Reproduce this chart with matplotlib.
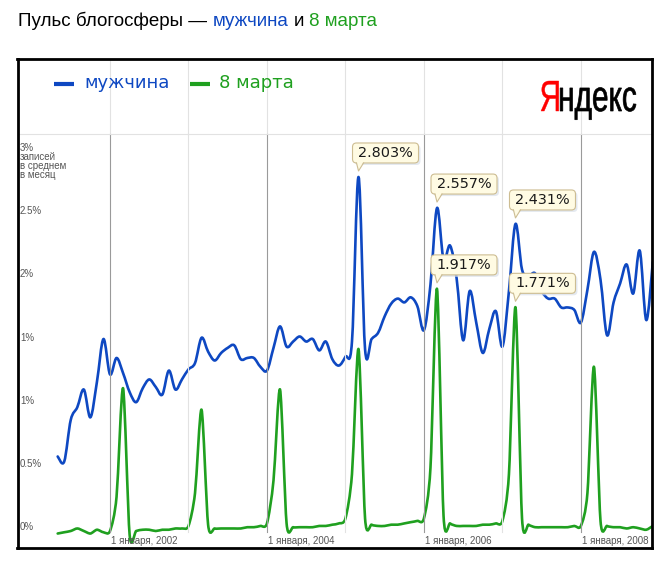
import numpy as np
import matplotlib.pyplot as plt
from matplotlib.path import Path
from matplotlib.patches import PathPatch, FancyBboxPatch, Polygon
from matplotlib.lines import Line2D
from matplotlib.textpath import TextPath
from matplotlib.font_manager import FontProperties
from matplotlib.transforms import Affine2D, IdentityTransform, blended_transform_factory

W, H = 671, 563

# месяцы от января 2002: -8 = май 2001 ... 83 = декабрь 2008
months = np.arange(-8, 84)

man = [0.59, 0.55, 0.88, 0.98, 1.12, 0.90, 1.18, 1.52,
       1.24, 1.37, 1.25, 1.10, 1.02, 1.13, 1.20, 1.14, 1.08, 1.27, 1.12, 1.20,
       1.28, 1.33, 1.53, 1.42, 1.35, 1.41, 1.45, 1.47, 1.36, 1.37, 1.37, 1.30,
       1.27, 1.45, 1.62, 1.46, 1.50, 1.54, 1.50, 1.52, 1.43, 1.50, 1.36, 1.31,
       1.38, 1.50, 2.803, 1.44, 1.52, 1.57, 1.70, 1.80, 1.84, 1.81, 1.85, 1.78,
       1.59, 1.95, 2.557, 2.15, 2.26, 2.00, 1.51, 1.90, 1.65, 1.41, 1.60, 1.74,
       1.46, 1.90, 2.431, 2.07, 2.02, 2.04, 1.90, 1.84, 1.84, 1.77, 1.77, 1.75,
       1.65, 1.91, 2.21, 1.99, 1.55, 1.81, 1.96, 2.11, 1.88, 2.22, 1.67, 2.13]

march8 = [-0.02, -0.01, 0.0, 0.02, 0.0, -0.02, 0.01, -0.01,
          0.0, 0.27, 1.13, -0.03, 0.0, 0.01, 0.01, 0.0, 0.01, 0.01, 0.02, 0.02,
          0.04, 0.3, 0.96, 0.05, 0.02, 0.02, 0.02, 0.02, 0.02, 0.03, 0.03, 0.04,
          0.06, 0.4, 1.12, 0.06, 0.03, 0.03, 0.03, 0.03, 0.04, 0.04, 0.05, 0.06,
          0.1, 0.45, 1.44, 0.1, 0.05, 0.04, 0.04, 0.05, 0.05, 0.06, 0.07, 0.08,
          0.1, 0.5, 1.917, 0.12, 0.06, 0.04, 0.04, 0.04, 0.04, 0.05, 0.05, 0.06,
          0.08, 0.45, 1.771, 0.1, 0.05, 0.03, 0.03, 0.03, 0.03, 0.03, 0.03, 0.04,
          0.04, 0.3, 1.30, 0.08, 0.04, 0.03, 0.03, 0.02, 0.03, 0.02, 0.01, 0.04]

years = [2002, 2003, 2004, 2005, 2006, 2007, 2008]
label_years = [2002, 2004, 2006, 2008]
y_ticks = [0, 0.5, 1, 1.5, 2, 2.5, 3]
y_tick_labels = ["0%", "0.5%", "1%", "1%", "2%", "2.5%", "3%"]
callouts = [("man", 38), ("man", 50), ("man", 62), ("march8", 50), ("march8", 62)]

BLUE = "#0e48c2"
GREEN = "#1fa01f"
CREAM = "#fffbe3"
EDGE = "#cdbd92"

fig = plt.figure(figsize=(W / 100, H / 100), dpi=100)
fig.patch.set_facecolor("white")


def fx(x):
    return x / W


def fy(y):
    return 1 - y / H


def smooth_path(x, y, k=1.0):
    # кривая Catmull-Rom через точки данных
    p = np.column_stack([x, y]).astype(float)
    n = len(p)
    verts = [p[0]]
    codes = [Path.MOVETO]
    for i in range(n - 1):
        p0 = p[max(i - 1, 0)]
        p1 = p[i]
        p2 = p[i + 1]
        p3 = p[min(i + 2, n - 1)]
        verts += [p1 + k * (p2 - p0) / 6, p2 - k * (p3 - p1) / 6, p2]
        codes += [Path.CURVE4] * 3
    return Path(verts, codes)


# раскладка в пикселях
X0_PX, MONTH_PX = 110.0, 6.54
Y0_PX, PCT_PX = 531.0, 126.3
left, right, top, bottom = 17.5, 651.5, 59, 548
header_y = 134

ax = fig.add_axes([fx(left), fy(bottom), (right - left) / W, (bottom - top) / H])
ax.set_xlim((left - X0_PX) / MONTH_PX, (right - X0_PX) / MONTH_PX)
ax.set_ylim((Y0_PX - bottom) / PCT_PX, (Y0_PX - top) / PCT_PX)
ax.set_xticks([])
ax.set_yticks([])
for s in ax.spines.values():
    s.set_linewidth(2.0)
    s.set_color("black")

hdr = (bottom - header_y) / (bottom - top)
low = (bottom - 532) / (bottom - top)
for yr in years:
    m = (yr - 2002) * 12
    ax.axvline(m, hdr, 1, color="#e2e2e2", lw=0.8)
    if yr % 2 == 0:
        ax.axvline(m, low, hdr, color="#9a9a9a", lw=0.8)
    else:
        ax.axvline(m, low, hdr, color="#e2e2e2", lw=0.8)
ax.axhline((Y0_PX - header_y) / PCT_PX, color="#e2e2e2", lw=0.8)

ax.add_patch(PathPatch(smooth_path(months, march8, 0.8), fill=False, ec=GREEN,
                       lw=1.9, capstyle="round", joinstyle="round"))
ax.add_patch(PathPatch(smooth_path(months, man), fill=False, ec=BLUE,
                       lw=1.9, capstyle="round", joinstyle="round"))

# подписи оси Y внутри рамки
ty = blended_transform_factory(ax.transAxes, ax.transData)
xl = (20 - left) / (right - left)
for v, lab in zip(y_ticks, y_tick_labels):
    ax.text(xl, v + 0.032, lab, transform=ty, ha="left", va="center",
            fontsize=7, family="Liberation Sans", color="#555555")
ax.text(xl, 3.0, "записей\nв среднем\nв месяц", transform=ty, ha="left", va="top",
        fontsize=7, family="Liberation Sans", color="#555555", linespacing=0.9)

for yr in label_years:
    ax.text((yr - 2002) * 12 + 0.15, (Y0_PX - 541) / PCT_PX, "1 января, %d" % yr,
            ha="left", va="center", fontsize=7, family="Liberation Sans", color="#555555")

# выноски с пиками
series = {"man": man, "march8": march8}
for name, m in callouts:
    v = series[name][int(np.where(months == m)[0][0])]
    px, py = ax.transData.transform((m, v))
    bw, bh = 66, 20
    x0, y0 = px - 6, py + 14
    fig.add_artist(FancyBboxPatch((x0 + 2, y0 - 2), bw, bh,
                                  boxstyle="round,pad=0,rounding_size=4",
                                  fc="#d9e0ea", ec="none", alpha=0.7,
                                  transform=IdentityTransform()))
    fig.add_artist(FancyBboxPatch((x0, y0), bw, bh,
                                  boxstyle="round,pad=0,rounding_size=4",
                                  fc=CREAM, ec=EDGE, lw=0.8,
                                  transform=IdentityTransform()))
    tail = [(px - 2, y0 + 1.5), (px + 5, y0 + 1.5), (px, py + 6)]
    fig.add_artist(Polygon(tail, closed=True, fc=CREAM, ec="none",
                           transform=IdentityTransform()))
    fig.add_artist(Line2D([px - 2, px, px + 5], [y0, py + 6, y0], color=EDGE, lw=0.8,
                          transform=IdentityTransform()))
    fig.text(x0 + bw / 2, y0 + bh / 2, "%.3f%%" % v, transform=IdentityTransform(),
             ha="center", va="center", fontsize=10.4, family="DejaVu Sans", color="#1a1a1a")

# заголовок из цветных кусков
title_parts = [("Пульс блогосферы —", "black"), ("мужчина", BLUE), ("и", "black"),
               ("8 марта", GREEN)]
renderer = fig.canvas.get_renderer()
tfont = dict(fontsize=13.5, family="Liberation Sans")
t1 = fig.text(0, 0, "x x", **tfont)
t2 = fig.text(0, 0, "xx", **tfont)
space = t1.get_window_extent(renderer).width - t2.get_window_extent(renderer).width
t1.remove()
t2.remove()
x = 18
for s, c in title_parts:
    t = fig.text(fx(x), fy(26), s, color=c, va="baseline", ha="left", **tfont)
    x = t.get_window_extent(renderer).x1 + space

# легенда
lfont = dict(fontsize=13, family="DejaVu Sans", va="center", ha="left")
fig.add_artist(Line2D([fx(54), fx(74)], [fy(84), fy(84)], color=BLUE, lw=3,
                      solid_capstyle="butt", transform=fig.transFigure))
fig.text(fx(84), fy(83), "мужчина", color=BLUE, **lfont)
fig.add_artist(Line2D([fx(190), fx(210)], [fy(84), fy(84)], color=GREEN, lw=3,
                      solid_capstyle="butt", transform=fig.transFigure))
fig.text(fx(219), fy(83), "8 марта", color=GREEN, **lfont)

# логотип
fp = FontProperties(family="Liberation Sans")
tp_ya = TextPath((0, 0), "Я", size=100, prop=fp)
tp_rest = TextPath((0, 0), "ндекс", size=100, prop=fp)
e1 = tp_ya.get_extents()
e2 = tp_rest.get_extents()
shift = e1.x1 + 5 - e2.x0
total_w = e2.x1 + shift - e1.x0
sx = 95 / total_w
sy = 30 / e1.y1
base = Affine2D().translate(-e1.x0, 0).scale(sx, sy).translate(541, H - 111)
fig.add_artist(PathPatch(tp_ya, transform=base, fc="#ff0000", ec="#ff0000", lw=0.3))
fig.add_artist(PathPatch(tp_rest, transform=Affine2D().translate(shift, 0) + base,
                         fc="black", ec="black", lw=0.5))

fig.savefig("out.png", dpi=100)
